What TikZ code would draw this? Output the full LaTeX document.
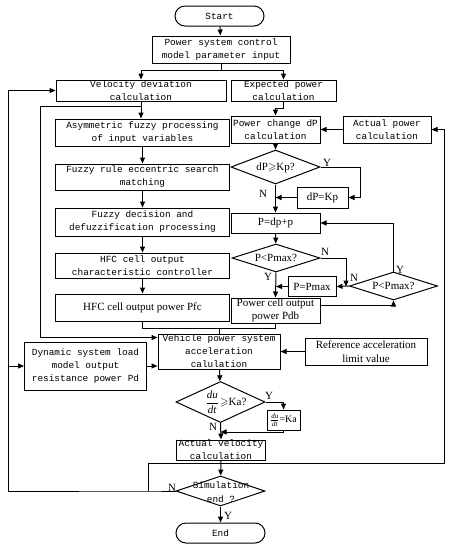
\documentclass[tikz,border=0pt]{standalone}
\usepackage{amsmath,amssymb}
\usepackage{fontspec}
\setmainfont{Liberation Serif}
\setmonofont{Liberation Mono}
\usetikzlibrary{arrows.meta,shapes.geometric,calc}
\begin{document}
\begin{tikzpicture}[x=1pt,y=-1pt, line width=1pt,
  mono/.style={font=\ttfamily\fontsize{9.4}{13}\selectfont, align=center, inner sep=0, text=black},
  ser/.style={font=\fontsize{11}{13}\selectfont, align=center, inner sep=0},
  box/.style={draw, rectangle, inner sep=0},
  term/.style={draw, rectangle, rounded corners=10pt, inner sep=0},
  dia/.style={draw, diamond, inner sep=0},
  yn/.style={font=\fontsize{11}{11}\selectfont, inner sep=0},
  arr/.style={-{Triangle[length=6pt,width=5pt]}}]
\useasboundingbox (0,0) rectangle (452,550);

% left column
\node[term, minimum width=89, minimum height=20, mono] (start) at (219.5,16) {Start};
\node[box, minimum width=138, minimum height=27, mono] (param) at (221,49.5) {Power system control\\model parameter input};
\node[box, minimum width=170, minimum height=21, mono] (vel) at (141,90.5) {Velocity deviation\\calculation};
\node[box, minimum width=105, minimum height=21, mono] (exp) at (283.5,90.5) {Expected power\\calculation};
\node[box, minimum width=174, minimum height=27, mono] (asym) at (142.5,132.5) {Asymmetric fuzzy processing\\of input variables};
\node[box, minimum width=174, minimum height=26, mono] (rule) at (142.5,177) {Fuzzy rule eccentric search\\matching};
\node[box, minimum width=174, minimum height=28, mono] (dec) at (142.5,222) {Fuzzy decision and\\defuzzification processing};
\node[box, minimum width=174, minimum height=25, mono] (hfcc) at (142.5,265.5) {HFC cell output\\characteristic controller};
\node[box, minimum width=174, minimum height=27, ser] (pfc) at (142.5,307.5) {HFC cell output power Pfc};

% right column
\node[box, minimum width=89, minimum height=27, mono] (pchg) at (275.5,129.5) {Power change dP\\calculation};
\node[box, minimum width=88, minimum height=27, mono] (apow) at (387,129.5) {Actual power\\calculation};
\node[dia, minimum width=89, minimum height=34] (d1) at (275.5,167) {};
\node[ser] (d1t) at (275.5,168) {dP$\geqslant$Kp?};
\node[box, minimum width=51, minimum height=21, ser] (dpk) at (322.5,197.5) {dP=Kp};
\node[box, minimum width=89, minimum height=20, ser] (pdp) at (275.5,223) {P=dp+p};
\node[dia, minimum width=88, minimum height=28] (d2) at (276,258) {};
\node[ser] (d2t) at (276,258) {P<Pmax?};
\node[box, minimum width=48, minimum height=20, ser] (ppm) at (312,286.5) {P=Pmax};
\node[dia, minimum width=88, minimum height=28] (d3) at (393.5,286) {};
\node[ser] (d3t) at (393.5,286) {P<Pmax?};
\node[box, minimum width=89, minimum height=25, ser] (pdb) at (275.5,310.5) {Power cell output\\power Pdb};

% lower part
\node[box, minimum width=122, minimum height=35, mono] (veh) at (219,351.5) {Vehicle power system\\acceleration\\calulation};
\node[box, minimum width=122, minimum height=48, mono] (dyn) at (85.5,366) {Dynamic system load\\model output\\resistance power Pd};
\node[box, minimum width=122, minimum height=27, ser, font=\fontsize{11}{13.5}\selectfont] (ref) at (366,351.5) {Reference acceleration\\limit value};
\node[dia, minimum width=89, minimum height=41] (d4) at (220.5,402) {};
\node[ser] (d4t) at (226,402) {$\dfrac{\textit{du}}{\textit{dt}}\!\geqslant$Ka?};
\node[box, minimum width=33, minimum height=20, ser, font=\fontsize{10}{10}\selectfont] (dka) at (283.5,420) {$\frac{\textit{du}}{\textit{dt}}$=Ka};
\node[box, minimum width=89, minimum height=20, mono] (avel) at (221,450) {Actual velocity\\calculation};
\node[dia, minimum width=89, minimum height=30] (d5) at (220.5,491) {};
\node[mono, font=\ttfamily\fontsize{9.4}{14}\selectfont] (d5t) at (221,492) {Simulation\\end ?};
\node[term, minimum width=89, minimum height=20, mono] (endn) at (220.5,533) {End};

% coordinates
\coordinate (j1) at (221,70);
\coordinate (j2) at (141,106);
\coordinate (c1) at (40,106);
\coordinate (j3) at (219,328);
\coordinate (c3) at (360,197.5);
\coordinate (c4) at (346,286.5);
\coordinate (c5) at (393.5,305);
\coordinate (c7) at (283.5,432);
\coordinate (c8) at (148,491);
\coordinate (c9) at (8,491);
\coordinate (c10) at (444,463);

% connectors
\draw[arr] (start) -- (param);
\draw (param.south) -- (j1);
\draw[arr] (j1) -| (vel.north);
\draw[arr] (j1) -| (exp.north);
\draw[arr] (vel.south) -- (vel.south |- asym.north);
\draw[arr] (j2) -- (c1) |- ($(veh.north west)+(0,4)$);
\draw[arr] (asym) -- (rule);
\draw[arr] (rule) -- (dec);
\draw[arr] (dec) -- (hfcc);
\draw[arr] (hfcc) -- (pfc);
\draw (pfc.south) |- (j3) -- (veh.north);
\draw (pdb.south) |- (j3);

\draw[arr] (exp.south) -- ++(0,7) -| (pchg.north);
\draw[arr] (apow) -- (pchg);
\draw[arr] (pchg) -- (d1);
\draw[arr] (d1.east) -- (d1.east -| c3) -- (c3) -- (dpk.east);
\draw[arr] (dpk.west) -- (dpk.west -| pdp.north);
\draw[arr] (d1.south) -- (pdp.north);
\draw[arr] (pdp) -- (d2);
\draw[arr] (d2.east) -| (c4);
\draw[arr] (d3.west) -- (ppm.east);
\draw[arr] (ppm.west) -- (ppm.west -| d2.south);
\draw[arr] (d2.south) -- (pdb.north);
\draw[arr] (c5 -| pdb.east) -- (c5) -- (d3.south);
\draw[arr] (d3.north) |- (pdp.east);

\draw[arr] (dyn.east) -- (dyn.east -| veh.west);
\draw[arr] (ref) -- (veh);
\draw[arr] (veh) -- (d4);
\draw[arr] (d4.east) -| (dka.north);
\draw[arr] (dka.south) -- (c7) -- (c7 -| d4.south);
\draw[arr] (d4.south) -- (avel.north);
\draw[arr] (avel) -- (d5);
\draw[arr] (d5) -- (endn);
\draw[arr] (d5.west) -- (c8) -- (c9) |- (vel.west);
\draw[arr] (c9 |- dyn.west) -- (dyn.west);
\draw[arr] (c8) |- (c10) |- (apow.east);

% Y/N labels
\node[yn] (l1) at (327,163) {Y};
\node[yn] (l2) at (263,194) {N};
\node[yn] (l3) at (325,252) {N};
\node[yn] (l4) at (354,278) {N};
\node[yn] (l5) at (268,277) {Y};
\node[yn] (l6) at (400,270) {Y};
\node[yn] (l7) at (269,396) {Y};
\node[yn] (l8) at (213,427) {N};
\node[yn] (l9) at (172,488) {N};
\node[yn] (l10) at (228,516) {Y};
\end{tikzpicture}
\end{document}
